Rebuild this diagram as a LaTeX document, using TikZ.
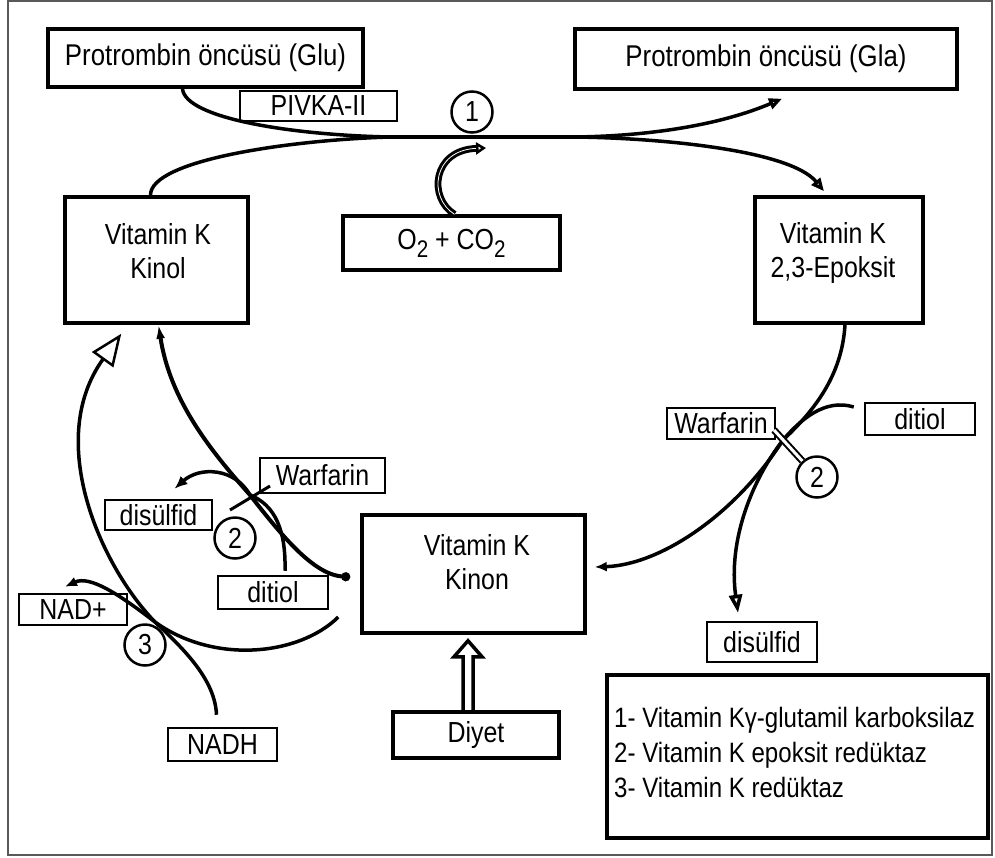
\documentclass[tikz,border=0pt]{standalone}
\usepackage{fontspec}
\setmainfont{Liberation Sans}[FakeStretch=0.86]
\usetikzlibrary{arrows.meta,calc}
\newcommand\boxfont{\fontsize{29}{34}\selectfont}
\newcommand\headfont{\fontsize{30}{34}\selectfont}
\newcommand\legfont{\fontsize{28}{35}\selectfont}
\newcommand\lowtwo{\raisebox{-8pt}{\fontsize{24}{24}\selectfont 2}}

\begin{document}
\begin{tikzpicture}[x=1pt,y=-1pt,
    box/.style={draw,line width=3.5,inner sep=0,font=\boxfont},
    tag/.style={draw,line width=2.5,inner sep=0,font=\boxfont},
    enz/.style={circle,draw,line width=2.5,minimum size=41,inner sep=0,font=\boxfont},
    txt/.style={inner sep=0,font=\boxfont},
    flow/.style={line width=3.5},
    >=Latex]
  \useasboundingbox (0,0) rectangle (995,857);
  \draw[gray!70!black,line width=2] (8,1) rectangle (992,855);
  % main boxes
  \node[box,font=\headfont,minimum width=315,minimum height=58] (glu) at (205.5,58) {Protrombin öncüsü (Glu)};
  \node[box,font=\headfont,minimum width=382,minimum height=60] (gla) at (766,59) {Protrombin öncüsü (Gla)};
  \node[tag,line width=2,minimum width=157,minimum height=30] (pivka) at (318.5,106) {PIVKA-II};
  \node[box,minimum width=217,minimum height=54] (o2) at (451.5,243) {O\lowtwo{} + CO\lowtwo};
  \node[box,minimum width=183,minimum height=126] (kinol) at (156.5,260) {};
  \node[txt,align=center] (kinoltxt) at (158,251) {Vitamin K\\Kinol};
  \node[box,minimum width=168,minimum height=126] (epoksit) at (839,260) {};
  \node[txt,align=center] (epoksittxt) at (833,253) {Vitamin K\\2,3-Epoksit};
  \node[box,minimum width=223,minimum height=118] (kinon) at (473.5,574) {};
  \node[txt,align=center] (kinontxt) at (477,562) {Vitamin K\\Kinon};
  \node[box,minimum width=166,minimum height=46] (diyet) at (476,735) {Diyet};
  \node[box,minimum width=381,minimum height=163] (legend) at (797.5,756.5) {};
  \foreach \n in {glu,gla,legend}
    \draw[line width=4] ([yshift=-2]\n.north west) -- ([yshift=-2]\n.north east);
  \foreach \t [count=\k] in {{1- Vitamin Kγ-glutamil karboksilaz},
      {2- Vitamin K epoksit redüktaz}, {3- Vitamin K redüktaz}}
    \node[txt,font=\legfont,anchor=base west] (leg\k) at (614,{692+35*\k}) {\t};
  % small labels
  \node[tag,minimum width=125,minimum height=35] (warfL) at (322.5,475.5) {Warfarin};
  \node[tag,minimum width=107,minimum height=30] (disL) at (158.5,515) {disülfid};
  \node[tag,minimum width=110,minimum height=33] (ditL) at (273,592.5) {ditiol};
  \node[tag,minimum width=108,minimum height=31] (nadp) at (73,609.5) {NAD+};
  \node[tag,minimum width=109,minimum height=33] (nadh) at (222.5,744.5) {NADH};
  \node[tag,minimum width=108,minimum height=31] (warfR) at (721,423.5) {Warfarin};
  \node[tag,minimum width=110,minimum height=32] (ditR) at (920,419) {ditiol};
  \node[tag,minimum width=110,minimum height=40] (disR) at (762,642) {disülfid};
  % enzymes
  \node[enz] (c1) at (472,112) {1};
  \node[enz] (c2L) at (235,538) {2};
  \node[enz] (c2R) at (817,477) {2};
  \node[enz] (c3) at (145,645) {3};
  % carboxylation (1)
  \coordinate (jl) at (390,137);
  \coordinate (jr) at (575,137);
  \draw[flow] ($(glu.south)+(-23,0)$) .. controls (185,118) and (290,135) .. (jl);
  \draw[flow] ($(kinol.north)+(-6,0)$) .. controls (150,160) and (290,140) .. (jl);
  \draw[flow,line width=4.5] (jl) -- (jr);
  \draw[flow,-{Triangle[open,length=13,width=11]}] (jr) .. controls (650,136) and (720,125) .. ($(gla.south)+(16,8)$);
  \draw[flow,-{Triangle[open,length=13,width=11]}] (jr) .. controls (660,138) and (790,150) .. ($(epoksit.north)+(-15,-4)$);
  \coordinate (ox) at (486,148);
  \draw[line width=3,double,double distance=0.8,-{Triangle[open,length=10,width=12,line width=3]}]
    ($(o2.north)+(3,0)$) .. controls (428,198) and (432,150) .. (ox);
  % epoxide reductase (2), right
  \coordinate (xr) at (783,440);
  \draw[flow,-{Latex[length=12,width=10]}] ($(epoksit.south)+(6,0)$) .. controls (842,375) and (815,410) .. (xr)
    .. controls (735,515) and (660,565) .. ($(kinon.east)+(8,-7)$);
  \draw[flow,-{Triangle[open,length=18,width=13]}] ($(ditR.west)+(-10,-12)$) .. controls (825,398) and (800,420) .. (xr)
    .. controls (752,480) and (728,540) .. ($(disR.north)+(-24,-8)$);
  \draw[line width=2,double,double distance=3] ($(xr)+(-9,-10)$) -- (c2R);
  % epoxide reductase (2), left
  \coordinate (xl) at (250,495);
  \draw[flow,line width=4,{Latex[length=14,width=9]}-{Circle[length=9]}] ($(kinol.south)+(2,0)$)
    .. controls (170,400) and (210,450) .. (xl) .. controls (285,540) and (315,575) .. ($(kinon.west)+(-10,3)$);
  \draw[flow,-{Latex[length=13,width=11]}] ($(ditL.north)+(12,-4)$) .. controls (286,530) and (275,505) .. (xl)
    .. controls (235,468) and (200,466) .. ($(disL.north)+(16,-10)$);
  \draw[line width=3] ($(xl)+(-20,15)$) -- ($(xl)+(20,-9)$);
  % reductase (3)
  \coordinate (xn) at (155,622);
  \draw[flow,-{Latex[length=12,width=10]}] ($(kinon.west)+(-22,43)$) .. controls (300,655) and (215,665) .. (xn)
    .. controls (120,595) and (90,575) .. ($(nadp.north)+(-8,-6)$);
  \draw[flow,-{Triangle[open,length=32,width=26,line width=2.5]}] ($(nadh.north)+(-6,-12)$)
    .. controls (215,680) and (185,650) .. (xn) .. controls (100,565) and (45,440) .. ($(kinol.south west)+(58,9)$);
  % diet (hollow arrow up into the quinone box)
  \draw[line width=3.5,line join=miter] ($(diyet.north)+(-13,0)$) -- ($(kinon.south)+(-10.5,22)$)
    -- ($(kinon.south)+(-19.5,22)$) -- ($(kinon.south)+(-5.5,6)$) -- ($(kinon.south)+(8.5,22)$)
    -- ($(kinon.south)+(-0.5,22)$) -- ($(diyet.north)+(-3,0)$);
\end{tikzpicture}
\end{document}
